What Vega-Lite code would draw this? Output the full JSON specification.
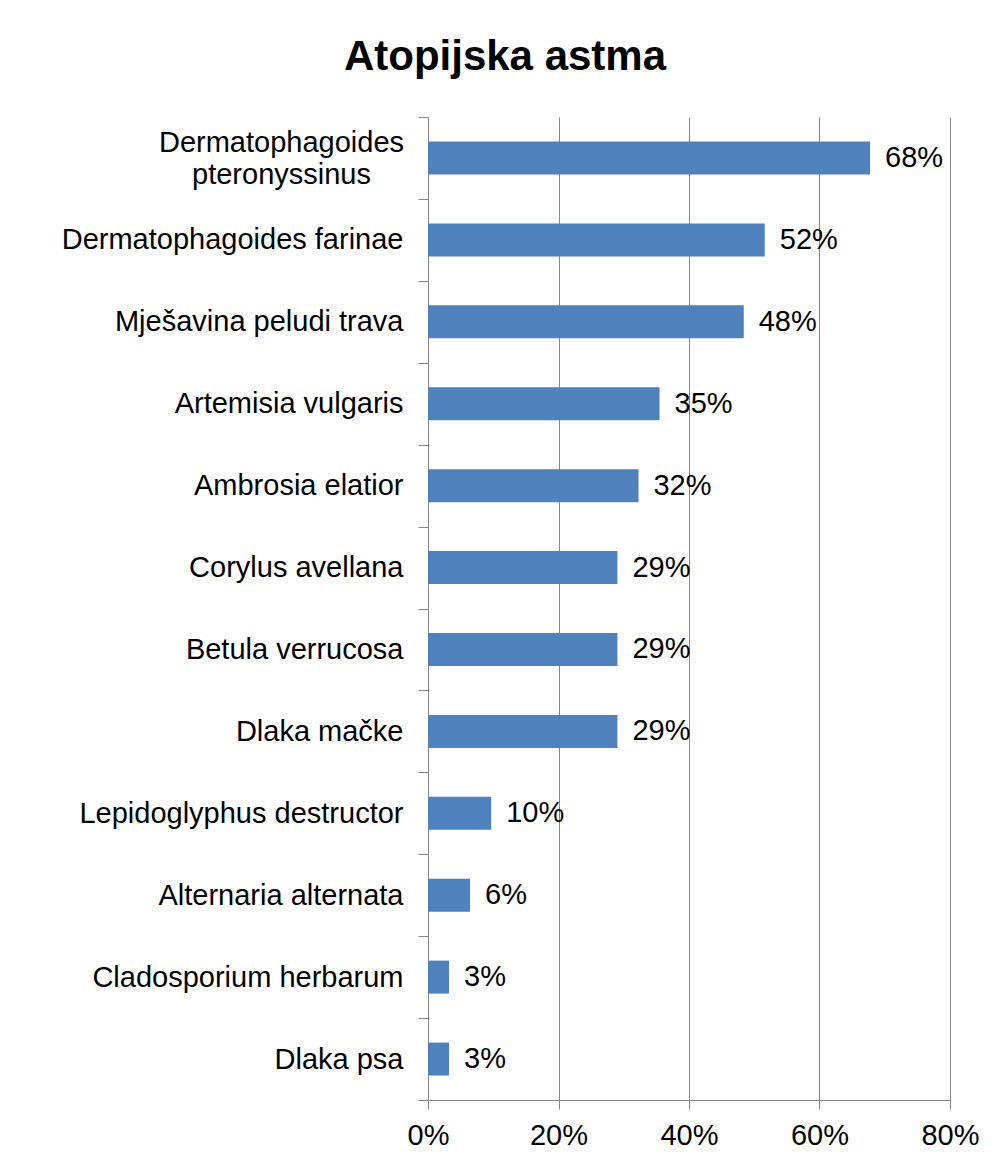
{
  "$schema": "https://vega.github.io/schema/vega-lite/v6.json",
  "autosize": "none",
  "padding": {"left": 428, "top": 117, "right": 43, "bottom": 65},
  "width": 522,
  "height": 983,
  "background": "white",
  "title": {
    "text": "Atopijska  astma",
    "font": "Liberation Sans, Arial",
    "fontSize": 42,
    "fontWeight": "bold",
    "color": "#000000",
    "anchor": "middle",
    "frame": "group",
    "dx": -184,
    "baseline": "alphabetic",
    "offset": -9
  },
  "data": {
    "values": [
      {"allergen": "Dermatophagoides pteronyssinus", "pct": 0.6774},
      {"allergen": "Dermatophagoides farinae", "pct": 0.5161},
      {"allergen": "Mješavina peludi trava", "pct": 0.4839},
      {"allergen": "Artemisia vulgaris", "pct": 0.3548},
      {"allergen": "Ambrosia elatior", "pct": 0.3226},
      {"allergen": "Corylus avellana", "pct": 0.2903},
      {"allergen": "Betula verrucosa", "pct": 0.2903},
      {"allergen": "Dlaka mačke", "pct": 0.2903},
      {"allergen": "Lepidoglyphus destructor", "pct": 0.0968},
      {"allergen": "Alternaria alternata", "pct": 0.0645},
      {"allergen": "Cladosporium herbarum", "pct": 0.0323},
      {"allergen": "Dlaka psa", "pct": 0.0323}
    ]
  },
  "encoding": {
    "y": {
      "field": "allergen",
      "type": "nominal",
      "sort": null,
      "scale": {"paddingInner": 0, "paddingOuter": 0},
      "axis": {
        "title": null,
        "tickBand": "extent",
        "tickSize": 10,
        "tickColor": "#868686",
        "domainColor": "#868686",
        "labelFont": "Liberation Sans, Arial",
        "labelFontSize": 29,
        "labelColor": "#000000",
        "labelLimit": 500,
        "labelLineHeight": 32,
        "labelExpr": "datum.value == 'Dermatophagoides pteronyssinus' ? ['Dermatophagoides', 'pteronyssinus'] : datum.label",
        "labelAlign": {"condition": {"test": "datum.value == 'Dermatophagoides pteronyssinus'", "value": "center"}, "value": "right"},
        "labelPadding": {"condition": {"test": "datum.value == 'Dermatophagoides pteronyssinus'", "value": 137}, "value": 15},
        "labelOffset": {"condition": {"test": "datum.value == 'Dermatophagoides pteronyssinus'", "value": -15}, "value": 0},
        "grid": false
      }
    },
    "x": {
      "field": "pct",
      "type": "quantitative",
      "scale": {"domain": [0, 0.8], "nice": false, "zero": true},
      "axis": {
        "title": null,
        "values": [0, 0.2, 0.4, 0.6, 0.8],
        "format": ".0%",
        "tickSize": 9,
        "tickColor": "#868686",
        "domainColor": "#868686",
        "gridColor": "#868686",
        "grid": true,
        "labelFont": "Liberation Sans, Arial",
        "labelFontSize": 29,
        "labelColor": "#000000",
        "labelPadding": 12,
        "labelFlush": false
      }
    }
  },
  "layer": [
    {"mark": {"type": "bar", "color": "#4F81BD", "size": 33}},
    {
      "mark": {"type": "text", "align": "left", "baseline": "middle", "dx": 15, "font": "Liberation Sans, Arial", "fontSize": 29, "color": "#000000"},
      "encoding": {"text": {"field": "pct", "type": "quantitative", "format": ".0%"}}
    }
  ],
  "config": {"view": {"stroke": null}}
}
